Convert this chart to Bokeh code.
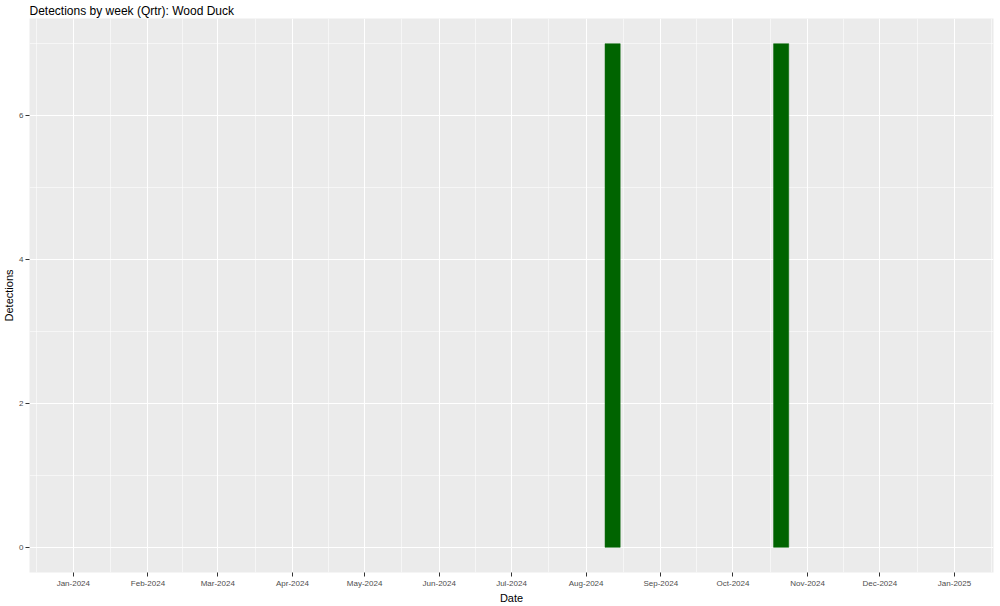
import pandas as pd
from bokeh.plotting import figure
from bokeh.models import FixedTicker, DatetimeTickFormatter, Range1d, ColumnDataSource
from bokeh.embed import file_html
from bokeh.resources import INLINE

# ---- data ----
title_text = "Detections by week (Qrtr): Wood Duck"
x_title = "Date"
y_title = "Detections"
week_dates = ["2024-08-12", "2024-10-21"]
detections = [7, 7]
data_first = "2024-01-01"
data_last = "2024-12-30"
month_ticks = ["2024-01-01", "2024-02-01", "2024-03-01", "2024-04-01", "2024-05-01",
               "2024-06-01", "2024-07-01", "2024-08-01", "2024-09-01", "2024-10-01",
               "2024-11-01", "2024-12-01", "2025-01-01"]
y_ticks = [0, 2, 4, 6]
y_minor = [1, 3, 5, 7]

FONT = "Liberation Sans"
DAY_MS = 86400000.0


def ms(d):
    return pd.Timestamp(d).value / 1e6


# ggplot-like expansion (5% each side)
x0, x1 = ms(data_first), ms(data_last)
xr = x1 - x0
ymax = max(detections)

major_x = [ms(d) for d in month_ticks]
ext = [ms("2023-12-01")] + major_x + [ms("2025-02-01")]
minor_x = [(a + b) / 2 for a, b in zip(ext[:-1], ext[1:])]

src = ColumnDataSource(dict(x=[pd.Timestamp(d) for d in week_dates], top=detections))

p = figure(width=1000, height=606, x_axis_type="datetime",
           x_range=Range1d(x0 - 0.05 * xr, x1 + 0.05 * xr),
           y_range=Range1d(-0.05 * ymax, ymax * 1.05),
           output_backend="svg", toolbar_location=None,
           min_border_left=26, min_border_right=7, min_border_top=0, min_border_bottom=30)

p.vbar(x="x", top="top", bottom=0, width=0.9 * 7 * DAY_MS, source=src,
       fill_color="#006400", line_color="#006400", line_width=0.5)

p.background_fill_color = "#EBEBEB"
p.border_fill_color = "white"
p.outline_line_color = None

p.title.text = title_text
p.title.text_font = FONT
p.title.text_font_size = "12px"
p.title.text_font_style = "normal"
p.title.text_color = "black"
p.title.align = "left"
p.title.standoff = 2
p.title.text_line_height = 1.0

p.xaxis.ticker = FixedTicker(ticks=major_x, minor_ticks=minor_x)
p.xaxis.formatter = DatetimeTickFormatter(
    milliseconds="%b-%Y", seconds="%b-%Y", minsec="%b-%Y", minutes="%b-%Y",
    hourmin="%b-%Y", hours="%b-%Y", days="%b-%Y", months="%b-%Y", years="%b-%Y")
p.yaxis.ticker = FixedTicker(ticks=y_ticks, minor_ticks=y_minor)

for ax in (p.xaxis[0], p.yaxis[0]):
    ax.axis_line_color = None
    ax.major_tick_line_color = "#333333"
    ax.major_tick_out = 4
    ax.major_tick_in = 0
    ax.minor_tick_out = 0
    ax.minor_tick_in = 0
    ax.minor_tick_line_color = None
    ax.major_label_text_color = "#4D4D4D"
    ax.major_label_text_font = FONT
    ax.major_label_text_font_size = "8px"
    ax.major_label_text_line_height = 1.0
    ax.major_label_standoff = 2
    ax.axis_label_text_font = FONT
    ax.axis_label_text_font_size = "11px"
    ax.axis_label_text_font_style = "normal"
    ax.axis_label_text_color = "black"
    ax.axis_label_text_line_height = 1.0
    ax.axis_label_standoff = 1

p.xaxis.axis_label = x_title
p.yaxis.axis_label = y_title

for g in (p.xgrid[0], p.ygrid[0]):
    g.grid_line_color = "white"
    g.grid_line_width = 1.1
    g.minor_grid_line_color = "white"
    g.minor_grid_line_width = 0.55

open("out.html", "w").write(file_html(p, INLINE))
